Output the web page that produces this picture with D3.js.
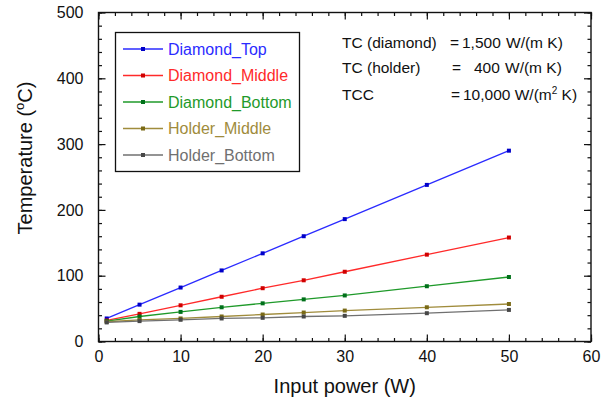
<!DOCTYPE html>
<html>
<head>
<meta charset="utf-8">
<script src="https://cdn.jsdelivr.net/npm/d3@7"></script>
<style>
  html, body { margin: 0; padding: 0; background: #fff; }
  svg text { font-family: Arial, "Liberation Sans", sans-serif; fill: #111; }
</style>
</head>
<body>
<svg id="chart" width="606" height="404"></svg>
<script>
/* ── data ─────────────────────────────────────── */
const powers       = [1, 5, 10, 15, 20, 25, 30, 40, 50];
const diamondTop   = [35, 56, 82, 108, 134, 160, 186, 238, 290];
const diamondMid   = [32, 42, 55, 68, 81, 93, 106, 132, 158];
const diamondBot   = [31, 38, 45, 52, 58, 64, 70, 84, 98];
const holderMid    = [30, 33, 35, 38, 41, 44, 47, 52, 57];
const holderBot    = [29, 31, 33, 35, 36, 38, 39, 43, 48];

const seriesNames  = ['Diamond_Top', 'Diamond_Middle', 'Diamond_Bottom', 'Holder_Middle', 'Holder_Bottom'];
const seriesValues = [diamondTop, diamondMid, diamondBot, holderMid, holderBot];
const lineColors   = ['#2b2bff', '#ff2a2a', '#1f9a2a', '#a08c3c', '#707070'];
const markColors   = ['#0000c8', '#d00000', '#00701a', '#7a6a16', '#474747'];

const xTicks = [0, 10, 20, 30, 40, 50, 60];
const yTicks = [0, 100, 200, 300, 400, 500];

/* ── layout ───────────────────────────────────── */
const L = 98.5, R = 591, T = 12.5, B = 341.5;
const svg = d3.select('#chart');

const x = d3.scaleLinear().domain([0, 60]).range([L, R]);
const y = d3.scaleLinear().domain([0, 500]).range([B, T]);

const minorX = d3.range(0, 61, 2);
const minorY = d3.range(0, 501, 20);

function styleAxis(g) {
  g.select('.domain').remove();
  g.selectAll('line').attr('stroke', '#111').attr('stroke-width', 1.2);
  g.selectAll('text').style('font-size', '16px').attr('fill', '#111');
}

// minor ticks, all four sides
svg.append('g').attr('transform', `translate(0,${B})`)
  .call(d3.axisBottom(x).tickValues(minorX).tickSize(-3.5).tickFormat('')).call(styleAxis);
svg.append('g').attr('transform', `translate(0,${T})`)
  .call(d3.axisTop(x).tickValues(minorX).tickSize(-3.5).tickFormat('')).call(styleAxis);
svg.append('g').attr('transform', `translate(${L},0)`)
  .call(d3.axisLeft(y).tickValues(minorY).tickSize(-3.5).tickFormat('')).call(styleAxis);
svg.append('g').attr('transform', `translate(${R},0)`)
  .call(d3.axisRight(y).tickValues(minorY).tickSize(-3.5).tickFormat('')).call(styleAxis);

// major ticks
svg.append('g').attr('transform', `translate(0,${B})`)
  .call(d3.axisBottom(x).tickValues(xTicks).tickSize(-7).tickPadding(9)).call(styleAxis);
svg.append('g').attr('transform', `translate(0,${T})`)
  .call(d3.axisTop(x).tickValues(xTicks).tickSize(-7).tickFormat('')).call(styleAxis);
svg.append('g').attr('transform', `translate(${L},0)`)
  .call(d3.axisLeft(y).tickValues(yTicks).tickSize(-7).tickPadding(15)).call(styleAxis);
svg.append('g').attr('transform', `translate(${R},0)`)
  .call(d3.axisRight(y).tickValues(yTicks).tickSize(-7).tickFormat('')).call(styleAxis);

// frame
svg.append('rect')
  .attr('x', L).attr('y', T).attr('width', R - L).attr('height', B - T)
  .attr('fill', 'none').attr('stroke', '#111').attr('stroke-width', 1.4);

/* ── series ───────────────────────────────────── */
const line = d3.line().x(d => x(d[0])).y(d => y(d[1]));

seriesValues.forEach((vals, i) => {
  const pts = powers.map((p, k) => [p, vals[k]]);
  svg.append('path').datum(pts)
    .attr('d', line).attr('fill', 'none')
    .attr('stroke', lineColors[i]).attr('stroke-width', 1.3);
  svg.append('g').selectAll('rect').data(pts).join('rect')
    .attr('x', d => x(d[0]) - 2).attr('y', d => y(d[1]) - 2)
    .attr('width', 4).attr('height', 4)
    .attr('fill', markColors[i]);
});

/* ── legend ───────────────────────────────────── */
const lg = svg.append('g');
lg.append('rect')
  .attr('x', 115.5).attr('y', 32.5).attr('width', 184).attr('height', 139)
  .attr('fill', '#fff').attr('stroke', '#111').attr('stroke-width', 1.3);

seriesNames.forEach((name, i) => {
  const yy = 49 + i * 26.5;
  lg.append('line')
    .attr('x1', 123).attr('x2', 163).attr('y1', yy).attr('y2', yy)
    .attr('stroke', lineColors[i]).attr('stroke-width', 1.3);
  lg.append('rect')
    .attr('x', 141).attr('y', yy - 2).attr('width', 4).attr('height', 4)
    .attr('fill', markColors[i]);
  lg.append('text')
    .attr('x', 168).attr('y', yy).attr('dy', '0.35em')
    .style('font-size', '16px').style('fill', lineColors[i])
    .text(name);
});

/* ── annotation ───────────────────────────────── */
const note = svg.append('g').style('font-size', '15.5px');

const r1 = note.append('text').attr('y', 48);
r1.append('tspan').attr('x', 342).text('TC (diamond)');
r1.append('tspan').attr('x', 450).text('=');
r1.append('tspan').attr('x', 462).text('1,500');
r1.append('tspan').attr('x', 506).text('W/(m K)');

const r2 = note.append('text').attr('y', 73);
r2.append('tspan').attr('x', 342).text('TC (holder)');
r2.append('tspan').attr('x', 452).text('=');
r2.append('tspan').attr('x', 474).text('400');
r2.append('tspan').attr('x', 505).text('W/(m K)');

const r3 = note.append('text').attr('y', 100);
r3.append('tspan').attr('x', 342).text('TCC');
r3.append('tspan').attr('x', 451).text('=');
r3.append('tspan').attr('x', 463).text('10,000 W/(m');
r3.append('tspan').attr('dy', -6).style('font-size', '10px').text('2');
r3.append('tspan').attr('dy', 6).text(' K)');

/* ── axis titles ──────────────────────────────── */
svg.append('text')
  .attr('x', (L + R) / 2).attr('y', 393)
  .attr('text-anchor', 'middle')
  .style('font-size', '20px')
  .text('Input power (W)');

const yl = svg.append('text')
  .attr('transform', 'translate(32,158) rotate(-90)')
  .attr('text-anchor', 'middle')
  .style('font-size', '20px');
yl.append('tspan').text('Temperature (');
yl.append('tspan').attr('dy', -8).style('font-size', '13px').text('o');
yl.append('tspan').attr('dy', 8).text('C)');
</script>
</body>
</html>
